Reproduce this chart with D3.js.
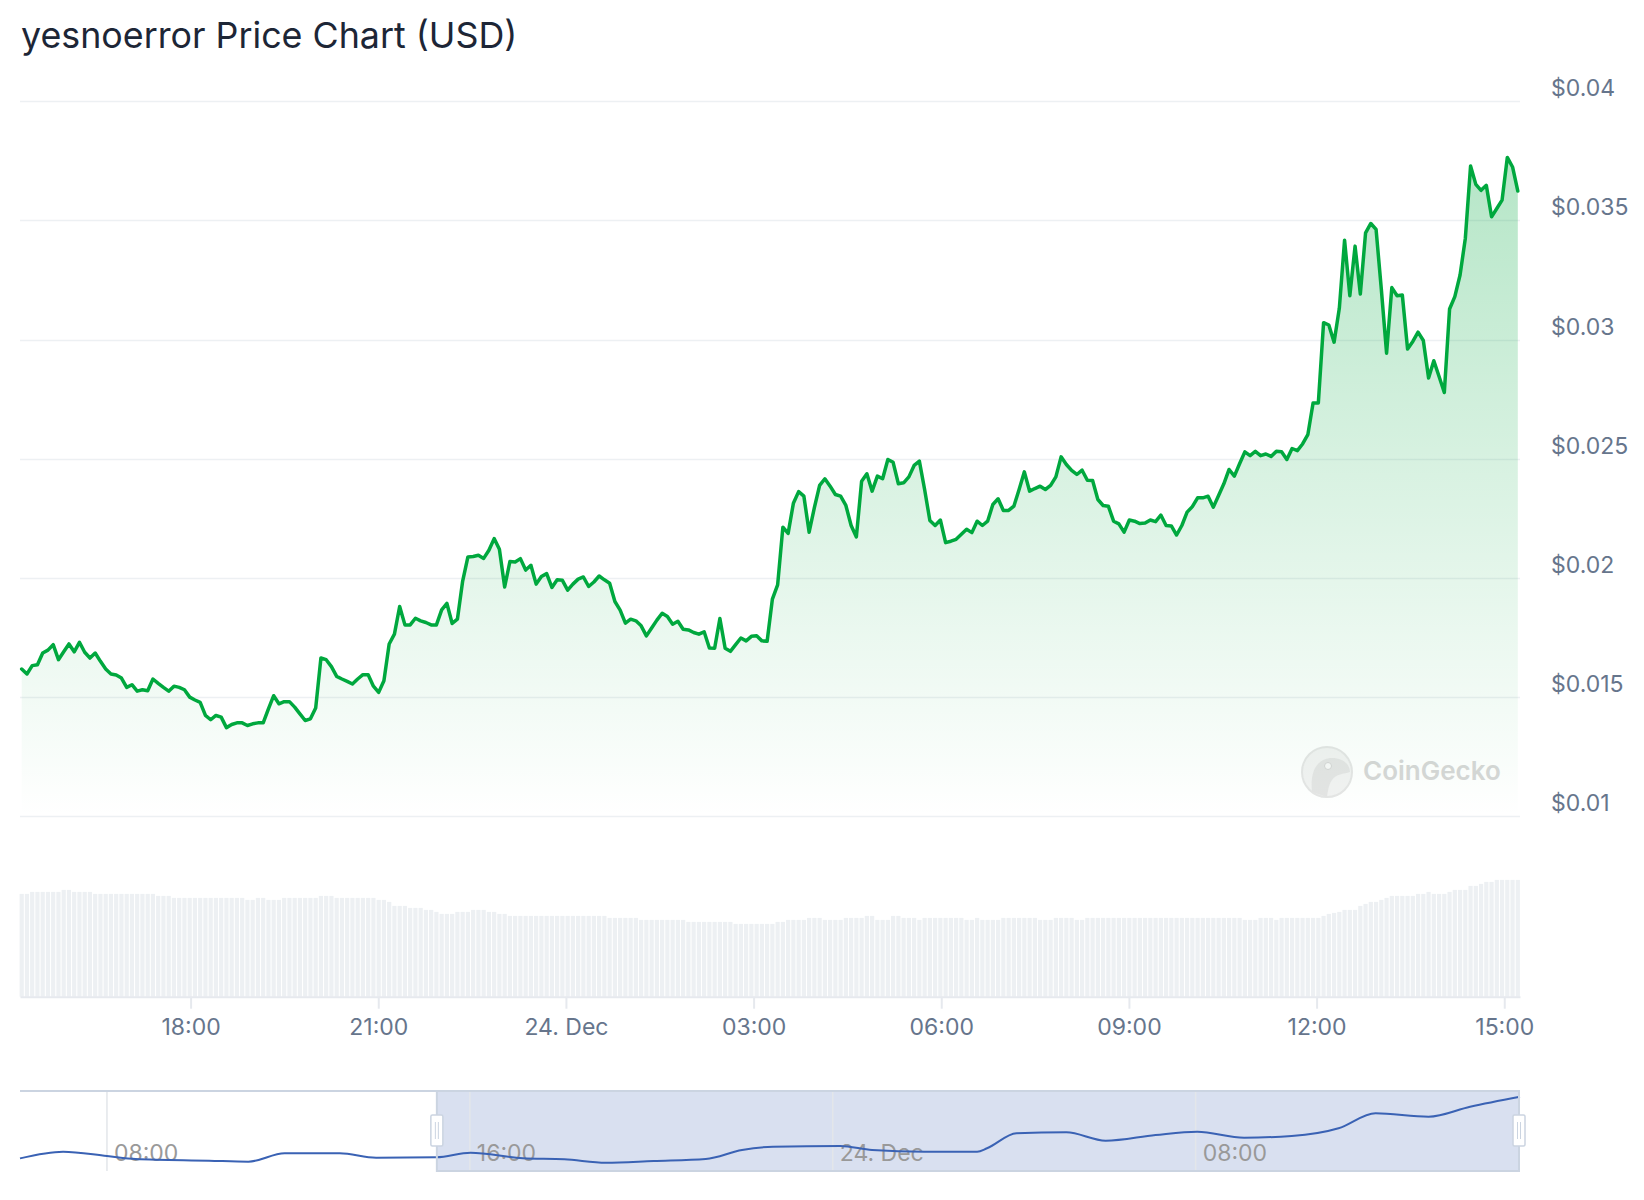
<!DOCTYPE html>
<html><head><meta charset="utf-8">
<script src="https://cdn.jsdelivr.net/npm/d3@7"></script>
<style>
html,body{margin:0;padding:0;background:#fff;}
svg{display:block;font-family:Inter,"Noto Sans",sans-serif;}
</style></head><body>
<svg id="chart" width="1644" height="1200"></svg>
<script>
const titleText = "yesnoerror Price Chart (USD)";
const priceStart = "2024-12-23T15:18:00";
const priceEnd = "2024-12-24T15:13:00";
const prices = [
0.01618,0.01597,0.01632,0.01636,0.01685,0.01697,0.0172,0.01657,0.0169,0.01723,
0.0169,0.0173,0.01688,0.01664,0.01685,0.0165,0.01618,0.01597,0.01593,0.0158,
0.01541,0.01552,0.01525,0.01531,0.01527,0.01576,0.01558,0.01541,0.01525,0.01546,
0.01541,0.01531,0.015,0.01488,0.01478,0.01423,0.01405,0.01423,0.01416,0.01372,
0.01385,0.01392,0.01392,0.01381,0.01388,0.01392,0.01392,0.01451,0.01506,0.01472,
0.01481,0.01481,0.01458,0.0143,0.01402,0.01409,0.01454,0.01664,0.01657,0.01628,
0.01587,0.01576,0.01566,0.01555,0.01576,0.01594,0.01594,0.01546,0.0152,0.01569,
0.01723,0.01764,0.0188,0.01803,0.01803,0.01831,0.0182,0.01813,0.01803,0.01803,
0.01866,0.01893,0.01809,0.01827,0.01987,0.02088,0.0209,0.02095,0.02082,0.02116,
0.02165,0.0212,0.01962,0.02069,0.02067,0.02081,0.02033,0.02053,0.01974,0.02006,
0.02018,0.0196,0.01992,0.0199,0.01949,0.01974,0.01995,0.02004,0.01964,0.01983,
0.02008,0.01992,0.01978,0.01901,0.01865,0.0181,0.01827,0.0182,0.01799,0.01757,
0.0179,0.01823,0.01852,0.01838,0.01806,0.01818,0.01785,0.01782,0.01771,0.01764,
0.01774,0.01706,0.01705,0.0183,0.01705,0.01692,0.0172,0.01748,0.01736,0.01755,
0.01757,0.01736,0.01734,0.01911,0.01971,0.02213,0.02187,0.02313,0.02362,0.02343,
0.02192,0.02295,0.02388,0.02416,0.02385,0.0235,0.02343,0.02304,0.0222,0.02172,
0.02406,0.02437,0.02364,0.02427,0.02416,0.02497,0.02485,0.02395,0.02399,0.02424,
0.02472,0.0249,0.02371,0.02241,0.0222,0.02243,0.02148,0.02154,0.02162,0.02183,
0.02204,0.0219,0.02238,0.0222,0.02238,0.02308,0.02332,0.02283,0.02283,0.02301,
0.02371,0.02445,0.02364,0.02375,0.02385,0.02371,0.02388,0.02424,0.02508,0.02476,
0.02451,0.02434,0.02452,0.0241,0.02409,0.02329,0.02304,0.02301,0.02238,0.02227,
0.02192,0.02243,0.02238,0.02228,0.0223,0.02243,0.02236,0.02264,0.0222,0.02218,
0.0218,0.0222,0.02276,0.02299,0.02336,0.02336,0.02343,0.02297,0.02346,0.02395,
0.02455,0.02427,0.02479,0.02529,0.02513,0.02531,0.02513,0.0252,0.0251,0.02531,
0.02529,0.02497,0.02543,0.02534,0.02562,0.02601,0.02734,0.02734,0.03071,0.03061,
0.02989,0.03131,0.03417,0.03184,0.03392,0.03191,0.03448,0.03487,0.03462,0.03211,
0.02943,0.03218,0.03184,0.03187,0.0296,0.02992,0.03031,0.02996,0.02839,0.02911,
0.02845,0.02778,0.03128,0.0318,0.03271,0.03424,0.03728,0.03651,0.03626,0.03647,
0.03515,0.0355,0.03585,0.03764,0.03724,0.03623
];
// volume (USD millions), one per price point
const volumes = [
51.4,51.4,52.4,52.4,52.4,52.4,52.4,52.4,53.4,53.4,
52.4,52.4,52.4,52.4,51.4,51.4,51.4,51.4,51.4,51.4,
51.4,51.4,51.4,51.4,51.4,51.4,50.4,50.4,50.4,49.4,
49.4,49.4,49.4,49.4,49.4,49.4,49.4,49.4,49.4,49.4,
49.4,49.4,49.4,48.4,48.4,49.4,49.4,48.4,48.4,48.4,
49.4,49.4,49.4,49.4,49.4,49.4,49.4,50.4,50.4,50.4,
49.4,49.4,49.4,49.4,49.4,49.4,49.4,49.4,48.4,48.4,
47.4,45.4,45.4,45.4,44.4,44.4,44.4,43.4,43.4,42.4,
41.4,41.4,41.4,42.4,42.4,42.4,43.4,43.4,43.4,42.4,
42.4,41.4,41.4,40.4,40.4,40.4,40.4,40.4,40.4,40.4,
40.4,40.4,40.4,40.4,40.4,40.4,40.4,40.4,40.4,40.4,
40.4,40.4,39.4,39.4,39.4,39.4,39.4,39.4,38.4,38.4,
38.4,38.4,38.4,38.4,38.4,38.4,38.4,37.4,37.4,37.4,
37.4,37.4,37.4,37.4,37.4,37.4,36.4,36.4,36.4,36.4,
36.4,36.4,36.4,36.4,37.4,37.4,38.4,38.4,38.4,38.4,
39.4,39.4,39.4,38.4,38.4,38.4,38.4,39.4,39.4,39.4,
39.4,40.4,40.4,38.4,38.4,38.4,40.4,40.4,39.4,39.4,
39.4,38.4,39.4,39.4,39.4,39.4,39.4,39.4,39.4,39.4,
38.4,38.4,39.4,38.4,38.4,38.4,38.4,39.4,39.4,39.4,
39.4,39.4,39.4,39.4,38.4,38.4,38.4,39.4,39.4,39.4,
39.4,38.4,38.4,39.4,39.4,39.4,39.4,39.4,39.4,39.4,
39.4,39.4,39.4,39.4,39.4,39.4,39.4,39.4,39.4,39.4,
39.4,39.4,39.4,39.4,39.4,39.4,39.4,39.4,39.4,39.4,
39.4,39.4,39.4,38.4,38.4,38.4,39.4,39.4,39.4,38.4,
39.4,39.4,39.4,39.4,39.4,39.4,39.4,39.4,40.4,41.4,
41.9,42.4,43.4,43.4,43.4,45.4,46.4,47.4,47.4,48.4,
49.4,50.4,50.4,50.4,50.4,50.4,51.4,51.4,52.4,51.4,
51.4,51.4,52.4,53.4,53.4,53.4,55.4,55.4,56.4,57.4,
57.4,58.4,58.4,58.4,58.4,58.4
];
const yTickValues = [0.01, 0.015, 0.02, 0.025, 0.03, 0.035, 0.04];
const yTickLabels = ["$0.01", "$0.015", "$0.02", "$0.025", "$0.03", "$0.035", "$0.04"];
// navigator (longer range) series
const navTimes = ["2024-12-23T06:05","2024-12-23T07:02","2024-12-23T08:00","2024-12-23T08:38","2024-12-23T10:15",
"2024-12-23T11:07","2024-12-23T11:55","2024-12-23T13:08","2024-12-23T13:56","2024-12-23T15:16","2024-12-23T16:01",
"2024-12-23T17:10","2024-12-23T18:05","2024-12-23T19:00","2024-12-23T20:03","2024-12-23T21:12","2024-12-23T22:00",
"2024-12-23T22:41","2024-12-24T00:10","2024-12-24T00:52","2024-12-24T02:01","2024-12-24T03:11","2024-12-24T03:24",
"2024-12-24T04:03","2024-12-24T05:09","2024-12-24T06:01","2024-12-24T07:07","2024-12-24T08:02","2024-12-24T09:04",
"2024-12-24T10:07","2024-12-24T11:09","2024-12-24T11:58","2024-12-24T13:08","2024-12-24T14:03","2024-12-24T15:09"];
const navValues = [0.0150,0.01738,0.01584,0.01477,0.01416,0.01381,0.01681,0.01681,0.01524,0.01538,0.01702,
0.01502,0.01466,0.01345,0.01406,0.01477,0.01798,0.01916,0.01941,0.01798,0.01738,0.01738,0.01859,
0.02395,0.0243,0.0213,0.02334,0.02452,0.02238,0.02298,0.02573,0.03109,0.02987,0.03344,0.03701];

const svg = d3.select("#chart");
const left = 20, right = 1520;
const parse = d3.isoParse;

// title
svg.append("text").attr("x", 21).attr("y", 48).attr("fill", "#1d2636")
  .attr("font-size", 35.8).text(titleText);

const t0 = parse(priceStart), t1 = parse(priceEnd);
const n = prices.length;
const data = prices.map((p, i) => ({
  t: new Date(+t0 + (t1 - t0) * i / (n - 1)), p, v: volumes[i]
}));

const x = d3.scaleTime()
  .domain([parse("2024-12-23T15:16:22"), parse("2024-12-24T15:15:06")])
  .range([left, right]);
const y = d3.scaleLinear().domain([0.01, 0.04]).range([816.3, 101.2]);

// gridlines + y labels
const gy = svg.append("g");
yTickValues.forEach((v, i) => {
  gy.append("line").attr("x1", left).attr("x2", right)
    .attr("y1", Math.round(y(v)) + 0.5).attr("y2", Math.round(y(v)) + 0.5)
    .attr("stroke", "#edf0f3").attr("stroke-width", 1.5);
  gy.append("text").attr("x", 1551).attr("y", y(v) - 5)
    .attr("fill", "#66758c").attr("font-size", 23).text(yTickLabels[i]);
});

// gradient
const defs = svg.append("defs");
const grad = defs.append("linearGradient").attr("id", "areaGrad")
  .attr("gradientUnits", "userSpaceOnUse")
  .attr("x1", 0).attr("x2", 0).attr("y1", y(d3.max(prices))).attr("y2", y(0.01));
grad.append("stop").attr("offset", 0).attr("stop-color", "#00a83e").attr("stop-opacity", 0.29);
grad.append("stop").attr("offset", 1).attr("stop-color", "#00a83e").attr("stop-opacity", 0.0);

// watermark
const wm = svg.append("g").attr("opacity", 0.9);
wm.append("circle").attr("cx", 1327).attr("cy", 772).attr("r", 25)
  .attr("fill", "#f1f1f1").attr("stroke", "#e3e3e3").attr("stroke-width", 2);
wm.append("path").attr("d", "M1312,792 C1310,772 1316,760 1330,758 C1342,757 1350,764 1350,772 C1344,774 1336,774 1332,780 C1328,786 1328,792 1327,797 Z")
  .attr("fill", "#e2e2e2");
wm.append("circle").attr("cx", 1328).attr("cy", 766).attr("r", 3.5).attr("fill", "#f8f8f8").attr("stroke", "#d0d0d0");
wm.append("text").attr("x", 1363).attr("y", 780).attr("font-size", 26).attr("font-weight", 600)
  .attr("fill", "#d3d3d3").text("CoinGecko");

// area + line
const area = d3.area().x(d => x(d.t)).y0(y(0.01)).y1(d => y(d.p));
const line = d3.line().x(d => x(d.t)).y(d => y(d.p));
svg.append("path").datum(data).attr("d", area).attr("fill", "url(#areaGrad)");
svg.append("path").datum(data).attr("d", line).attr("fill", "none")
  .attr("stroke", "#00a83e").attr("stroke-width", 3.5).attr("stroke-linejoin", "round").attr("stroke-linecap", "round");

// volume
const volBase = 996.7;
const yv = d3.scaleLinear().domain([0, 60]).range([volBase, volBase - 120]);
const step = x(data[1].t) - x(data[0].t);
const bw = step * 0.8;
svg.append("g").selectAll("rect").data(data).join("rect")
  .attr("x", d => x(d.t) - bw / 2).attr("width", bw)
  .attr("y", d => yv(d.v)).attr("height", d => volBase - yv(d.v))
  .attr("fill", "#edf0f3");

// x axis
const ticks = d3.timeHour.every(3).range(x.domain()[0], x.domain()[1]);
const fmt = d => (d.getHours() === 0 ? d3.timeFormat("%-d. %b")(d) : d3.timeFormat("%H:%M")(d));
const xAxis = d3.axisBottom(x).tickValues(ticks).tickFormat(fmt).tickSize(12).tickSizeOuter(0).tickPadding(10);
const gx = svg.append("g").attr("transform", `translate(0,${volBase})`).call(xAxis);
gx.select(".domain").attr("stroke", "#e6e9ee").attr("stroke-width", 2);
gx.selectAll(".tick line").attr("stroke", "#e6e9ee").attr("stroke-width", 2);
gx.selectAll(".tick text").attr("fill", "#66758c").attr("font-size", 23)
  .attr("font-family", 'Inter,"Noto Sans",sans-serif');

// navigator
const navTop = 1091, navBot = 1171;
const nx = d3.scaleTime().domain([parse("2024-12-23T06:05"), parse("2024-12-24T15:09")]).range([left, right]);
const ny = d3.scaleLinear().domain([0.01345, 0.03701]).range([1162.7, 1096.7]);
const nav = svg.append("g");
const maskX0 = nx(x.domain()[0]), maskX1 = Math.min(right - 1, nx(x.domain()[1]));
nav.append("rect").attr("x", maskX0).attr("y", navTop).attr("width", maskX1 - maskX0).attr("height", navBot - navTop)
  .attr("fill", "rgba(102,133,194,0.25)");
const navTicks = d3.timeHour.every(8).range(nx.domain()[0], nx.domain()[1]);
navTicks.forEach(tk => {
  nav.append("line").attr("x1", nx(tk)).attr("x2", nx(tk)).attr("y1", navTop).attr("y2", navBot)
    .attr("stroke", "#e3e6ea").attr("stroke-width", 1.5);
  nav.append("text").attr("x", nx(tk) + 7).attr("y", 1161).attr("font-size", 23).attr("fill", "#999")
    .text(fmt(tk));
});
const navData = navTimes.map((t, i) => ({ t: parse(t), v: navValues[i] }));
nav.append("path").datum(navData)
  .attr("d", d3.line().x(d => nx(d.t)).y(d => ny(d.v)).curve(d3.curveMonotoneX))
  .attr("fill", "none").attr("stroke", "#3a62b4").attr("stroke-width", 2);
nav.append("line").attr("x1", left).attr("x2", right).attr("y1", navTop).attr("y2", navTop)
  .attr("stroke", "#cbd4e1").attr("stroke-width", 2);
nav.append("path").attr("d", `M${maskX0},${navTop}V${navBot}H${maskX1}V${navTop}`)
  .attr("fill", "none").attr("stroke", "#cbd4e1").attr("stroke-width", 2);
[maskX0, maskX1].forEach(hx => {
  nav.append("rect").attr("x", hx - 6).attr("y", 1115).attr("width", 12).attr("height", 31).attr("rx", 1.5)
    .attr("fill", "#fff").attr("stroke", "#cbd4e1").attr("stroke-width", 1.5);
  [-1.5, 1.5].forEach(o => nav.append("line").attr("x1", hx + o).attr("x2", hx + o).attr("y1", 1122).attr("y2", 1139)
    .attr("stroke", "#cbd4e1").attr("stroke-width", 1));
});
</script>
</body></html>
